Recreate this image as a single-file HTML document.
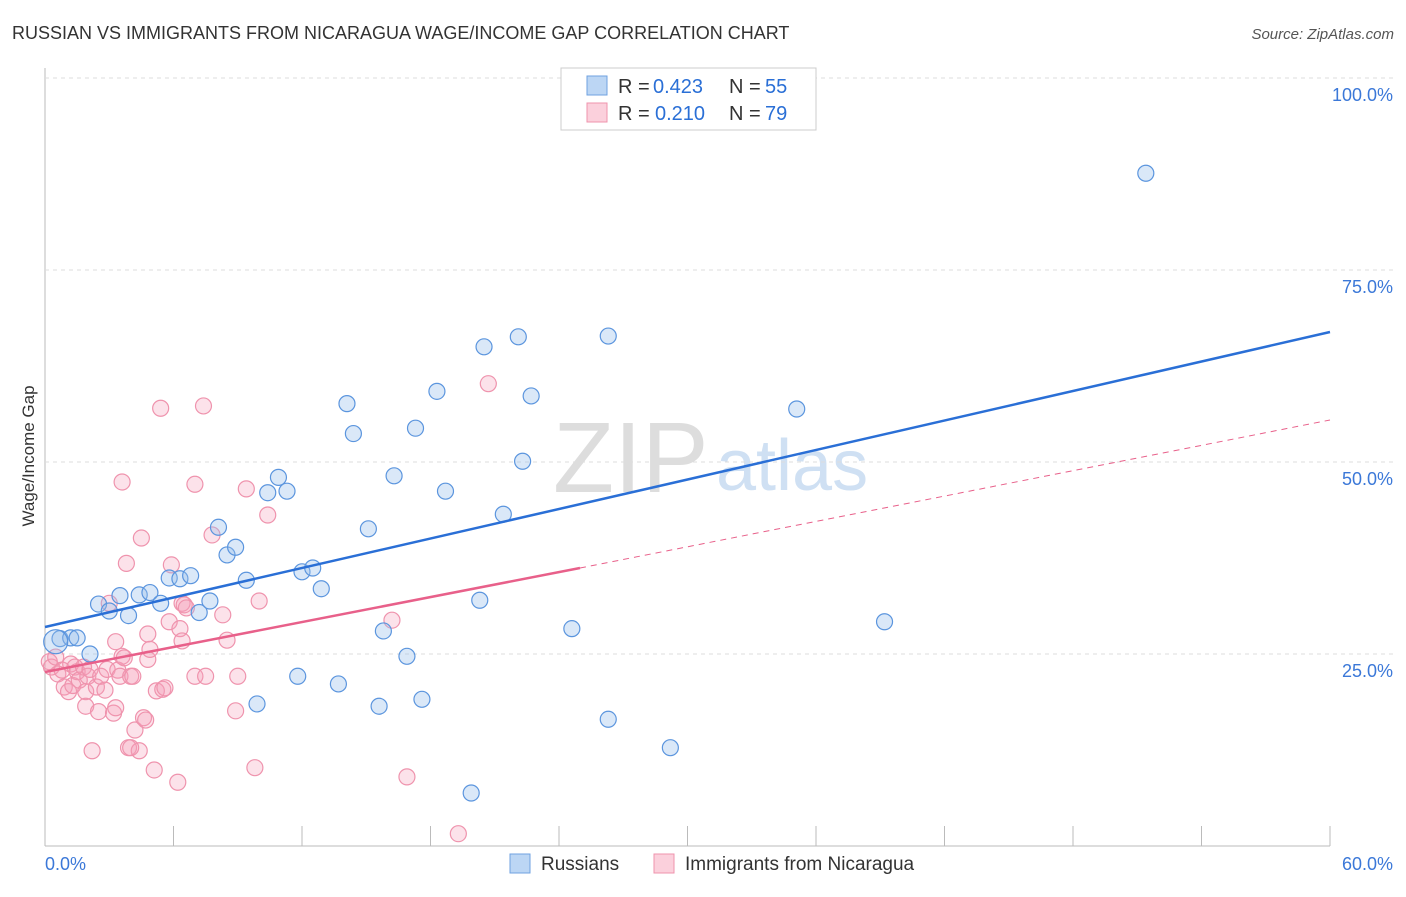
<!DOCTYPE html>
<html><head><meta charset="utf-8"><style>
body{margin:0;background:#fff;font-family:"Liberation Sans",sans-serif;}
svg text{font-family:"Liberation Sans",sans-serif;}
</style></head><body>
<svg id="c" width="1406" height="892">
<text x="12" y="39" font-size="18" fill="#333">RUSSIAN VS IMMIGRANTS FROM NICARAGUA WAGE/INCOME GAP CORRELATION CHART</text>
<text x="1394" y="39" font-size="15" fill="#555" text-anchor="end" font-style="italic">Source: ZipAtlas.com</text>
<text x="34" y="456" font-size="17" fill="#333" text-anchor="middle" transform="rotate(-90 34 456)">Wage/Income Gap</text>
<text x="553" y="492" font-size="100" fill="#ddd" font-family="Liberation Serif">ZIP</text>
<text x="716" y="490" font-size="72" fill="#cfe0f3">atlas</text>
<g id="grid"></g><g id="pts"></g><g id="lines"></g>
<g>
<rect x="561" y="68" width="255" height="62" fill="#fff" stroke="#ccc"/>
<rect x="587" y="76" width="20" height="19" fill="#bcd6f4" stroke="#6fa2e0"/>
<text x="618" y="93" font-size="20" fill="#333">R =</text>
<text x="653" y="93" font-size="20" fill="#2a6fd6">0.423</text>
<text x="729" y="93" font-size="20" fill="#333">N =</text>
<text x="765" y="93" font-size="20" fill="#2a6fd6">55</text>
<rect x="587" y="103" width="20" height="19" fill="#fbd0dc" stroke="#ef93ad"/>
<text x="618" y="120" font-size="20" fill="#333">R =</text>
<text x="655" y="120" font-size="20" fill="#2a6fd6">0.210</text>
<text x="729" y="120" font-size="20" fill="#333">N =</text>
<text x="765" y="120" font-size="20" fill="#2a6fd6">79</text>
</g>
<g>
<rect x="510" y="854" width="20" height="19" fill="#bcd6f4" stroke="#6fa2e0"/>
<text x="541" y="870" font-size="19" fill="#333">Russians</text>
<rect x="654" y="854" width="20" height="19" fill="#fbd0dc" stroke="#ef93ad"/>
<text x="685" y="870" font-size="19" fill="#333">Immigrants from Nicaragua</text>
</g>
</svg>
<script>
const yTicks=[25,50,75,100];
const xTickLabels=["0.0%","60.0%"];
const blueX=[0.7,1.2,1.5,2.1,2.5,3.0,3.5,3.9,4.4,4.9,5.4,5.8,6.3,6.8,7.2,7.7,8.1,8.5,8.9,9.4,9.9,10.4,10.9,11.3,11.8,12.0,12.5,12.9,13.7,14.1,14.4,15.1,15.6,15.8,16.3,16.9,17.3,17.6,18.3,18.7,19.9,20.3,20.5,21.4,22.1,22.3,22.7,24.6,26.3,26.3,29.2,35.1,39.2,51.4,0.5];
const blueY=[27.0,27.1,27.1,25.0,31.5,30.6,32.6,30.0,32.7,33.0,31.6,34.9,34.8,35.2,30.4,31.9,41.5,37.9,38.9,34.6,18.5,46.0,48.0,46.2,22.1,35.7,36.2,33.5,21.1,57.6,53.7,41.3,18.2,28.0,48.2,24.7,54.4,19.1,59.2,46.2,6.9,32.0,65.0,43.2,66.3,50.1,58.6,28.3,16.5,66.4,12.8,56.9,29.2,87.6,26.6];
const pinkX=[0.2,0.3,0.5,0.6,0.8,0.9,1.1,1.2,1.3,1.4,1.5,1.6,1.8,1.9,1.9,2.0,2.1,2.2,2.4,2.5,2.6,2.8,2.9,3.0,3.2,3.3,3.4,3.5,3.6,3.6,3.7,3.8,3.9,4.0,4.1,4.2,4.4,4.5,4.6,4.8,4.8,4.9,5.1,5.2,5.4,5.5,5.6,5.8,5.9,6.2,6.3,6.4,6.4,6.5,6.6,7.0,7.0,7.4,7.5,7.8,8.3,8.5,8.9,9.0,9.4,9.8,10.0,10.4,16.2,16.9,19.3,20.7,4.7,4.0,3.3];
const pinkY=[24.0,23.3,24.6,22.4,22.9,20.7,20.1,23.7,20.9,23.3,22.7,21.6,23.3,20.1,18.2,22.1,23.0,12.4,20.7,17.5,22.1,20.3,23.0,31.6,17.3,26.6,22.9,22.1,24.7,47.4,24.5,36.8,12.8,22.1,22.1,15.1,12.4,40.1,16.7,27.6,24.3,25.6,9.9,20.2,57.0,20.4,20.6,29.2,36.6,8.3,28.3,26.7,31.6,31.4,31.0,47.1,22.1,57.3,22.1,40.5,30.1,26.8,17.6,22.1,46.5,10.2,31.9,43.1,29.4,9.0,1.6,60.2,16.4,12.8,18.0];
const X=v=>45+v/60*1285, Y=v=>846-v*7.68;
const NS="http://www.w3.org/2000/svg";
function mk(t,a,p){const e=document.createElementNS(NS,t);for(const k in a)e.setAttribute(k,a[k]);p.appendChild(e);return e;}
const g=document.getElementById('grid');
const ax=mk('line',{x1:45,y1:68,x2:45,y2:846,stroke:'#bbb'},g);


const bx=mk('line',{x1:45,y1:846,x2:1330,y2:846,stroke:'#bbb'},g);


yTicks.forEach(t=>{
 const l=mk('line',{x1:45,x2:1394,y1:Y(t),y2:Y(t),stroke:'#ddd','stroke-dasharray':'4,4'},g);
 
 
 const tx=mk('text',{x:1393,y:Y(t)+23,'text-anchor':'end','font-size':18,fill:'#3b78d8'},g);
 tx.textContent=t.toFixed(1)+'%';
 
 
});
for(let i=0;i<=10;i++){const l=mk('line',{x1:X(i*6),x2:X(i*6),y1:846,y2:826,stroke:'#bbb'},g);
 
 }
xTickLabels.forEach((s,i)=>{const t=mk('text',{x:i?1393:45,y:870,'text-anchor':i?'end':'start','font-size':18,fill:'#3b78d8'},g);t.textContent=s;
 
 });
const p=document.getElementById('pts');
pinkX.forEach((x,i)=>{const c=mk('circle',{cx:X(x),cy:Y(pinkY[i]),r:8,fill:'rgba(246,160,185,0.3)',stroke:'#ef93ad','stroke-width':1.2},p);
 
 });
blueX.forEach((x,i)=>{const c=mk('circle',{cx:X(x),cy:Y(blueY[i]),r:i==54?12:8,fill:'rgba(150,190,236,0.35)',stroke:'#5b95de','stroke-width':1.2},p);
 
 });
const L=document.getElementById('lines');
const b=mk('line',{x1:45,y1:627,x2:1330,y2:332,stroke:'#2a6fd6','stroke-width':2.5},L);


const pk=mk('line',{x1:45,y1:672,x2:580,y2:568,stroke:'#e8608a','stroke-width':2.5},L);


const pd=mk('line',{x1:580,y1:568,x2:1330,y2:420,stroke:'#e8608a','stroke-width':1,'stroke-dasharray':'6,5'},L);


</script>
</body></html>
